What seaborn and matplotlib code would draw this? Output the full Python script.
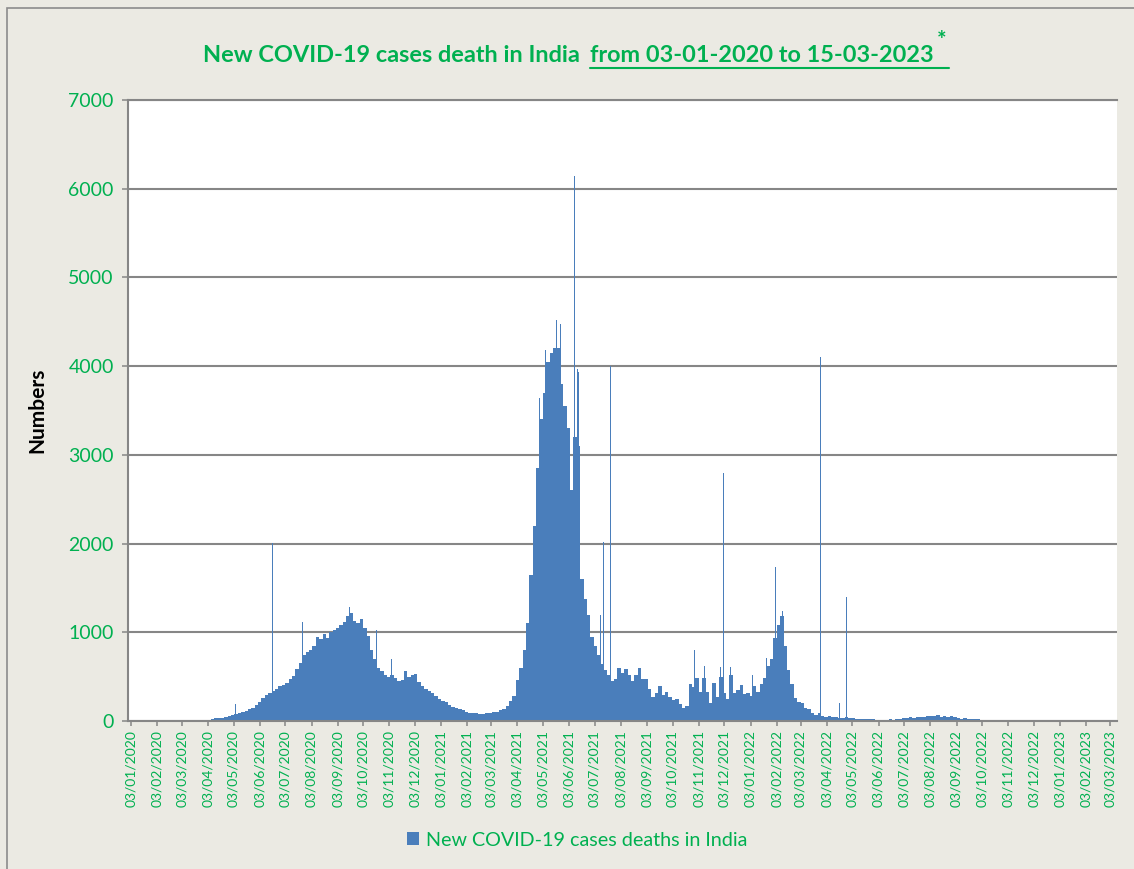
import numpy as np
import pandas as pd
import matplotlib
matplotlib.use("Agg")
import matplotlib.pyplot as plt
import matplotlib.dates as mdates
from matplotlib.patches import Patch, Rectangle
from matplotlib.lines import Line2D
import seaborn as sns

# daily new deaths, one value per 4-day block, first block starts 13/03/2020
first_day = "2020-03-13"
block_days = 4

deaths_2020 = [1, 2, 3, 5, 10,
               15, 22, 30, 32, 38, 45, 52, 65,
               80, 95, 105, 115, 130, 145, 175,
               215, 255, 290, 320, 340, 360, 390, 410,
               430, 470, 510, 590, 650, 740, 780, 800,
               850, 950, 920, 980, 930, 1000, 1030,
               1050, 1080, 1120, 1180, 1220, 1130, 1110, 1150,
               1050, 960, 800, 700, 600, 560, 520, 500,
               520, 480, 450, 460, 560, 500, 520,
               530, 440, 390, 360, 340, 320, 280, 250]
deaths_2021 = [230, 210, 180, 160, 145, 130, 120, 105,
               95, 90, 85, 80, 82, 90, 95,
               98, 105, 120, 140, 170, 230, 280,
               460, 600, 800, 1100, 1650, 2200, 2850, 3400,
               3700, 4050, 4150, 4200, 4200, 3800, 3550, 3300,
               2600, 3200, 3100, 1600, 1380, 1200, 950,
               850, 740, 640, 570, 520, 450, 470, 600,
               540, 590, 520, 450, 520, 600, 470, 470,
               360, 270, 310, 400, 290, 330, 270,
               240, 250, 190, 150, 170, 420, 380, 480,
               330, 480, 330, 200, 430, 270, 500,
               320, 250, 520, 320, 350, 410, 300, 320]
deaths_2022 = [280, 400, 330, 420, 480, 620, 700, 930,
               1080, 1180, 850, 580, 420, 260, 210,
               200, 150, 140, 90, 70, 95, 60, 50,
               60, 45, 40, 35, 38, 40, 32,
               30, 25, 26, 20, 22, 24, 18, 16,
               15, 12, 16, 18, 15, 22, 25,
               30, 36, 40, 35, 46, 42, 50, 56,
               52, 58, 62, 50, 56, 46, 52, 42,
               32, 26, 30, 22, 26, 20, 18,
               15, 12]

# single days standing out above the blocks
spike_dates = ["2020-05-05", "2020-06-17", "2020-07-23", "2020-09-16", "2020-10-01",
               "2020-10-18", "2020-11-05",
               "2021-04-02", "2021-04-28", "2021-05-06", "2021-05-19", "2021-05-23",
               "2021-06-09", "2021-06-12", "2021-06-14", "2021-07-09", "2021-07-13",
               "2021-07-21", "2021-10-23", "2021-10-28", "2021-11-09", "2021-11-28",
               "2021-12-02", "2021-12-10",
               "2022-01-05", "2022-01-21", "2022-02-01", "2022-02-09", "2022-02-18",
               "2022-03-26", "2022-04-17", "2022-04-26", "2022-08-27", "2022-11-01"]
spike_values = [190, 2003, 1115, 1285, 1180, 1030, 700,
                700, 3640, 4180, 4520, 4470, 6148, 3970, 3930, 1200, 2020,
                3998, 760, 800, 620, 610, 2796, 610,
                520, 705, 1733, 1240, 650, 4100, 200, 1400, 145, 1370]

title_left = "New COVID-19 cases death in India"
title_right = "from 03-01-2020 to 15-03-2023"
legend_label = "New COVID-19 cases deaths in India"

BLUE = "#4A7EBB"
GREEN = "#00B050"
GRID = "#868686"
BG = "#EBEAE3"

sns.set_style("white")
plt.rcParams["font.family"] = ["Lato", "DejaVu Sans"]

W, H = 1134, 869
fig = plt.figure(figsize=(W / 100, H / 100), dpi=100, facecolor=BG)
ax = fig.add_axes([128 / W, 1 - 721 / H, 989 / W, 621 / H])
ax.set_facecolor("white")

# 4-day blocks
deaths = deaths_2020 + deaths_2021 + deaths_2022
blocks = pd.DataFrame({
    "day": mdates.date2num(pd.date_range(first_day, periods=len(deaths), freq=f"{block_days}D")),
    "deaths": deaths,
})
sns.histplot(data=blocks, x="day", weights="deaths", binwidth=block_days,
             binrange=(blocks["day"].min(), blocks["day"].max() + block_days),
             color=BLUE, alpha=1, linewidth=0, antialiased=False, ax=ax)

# one-day spikes
spikes = pd.DataFrame({
    "day": mdates.date2num(pd.to_datetime(spike_dates)),
    "deaths": spike_values,
})
sns.histplot(data=spikes, x="day", weights="deaths", binwidth=1,
             binrange=(spikes["day"].min(), spikes["day"].max() + 1),
             color=BLUE, alpha=1, linewidth=0, ax=ax)

# axes
ax.set_xlim(mdates.date2num(pd.Timestamp("2019-12-30 12:00")),
            mdates.date2num(pd.Timestamp("2023-03-11 08:00")))
ax.set_ylim(0, 7000)
ax.set_yticks(range(0, 7001, 1000))
ax.xaxis.set_major_locator(mdates.MonthLocator(bymonthday=3))
ax.xaxis.set_major_formatter(mdates.DateFormatter("%d/%m/%Y"))
ax.set_axisbelow(True)
ax.yaxis.grid(True, color=GRID, linewidth=1.5)
ax.xaxis.grid(False)
for s in ["left", "bottom", "top"]:
    ax.spines[s].set_color(GRID)
    ax.spines[s].set_linewidth(1.5)
ax.spines["right"].set_visible(False)
ax.tick_params(axis="x", bottom=True, direction="out", length=3.6, width=1.1, color=GRID,
               labelcolor=GREEN, labelsize=10, labelrotation=90, pad=3)
ax.tick_params(axis="y", left=True, direction="out", length=4.3, width=1.1, color=GRID,
               labelcolor=GREEN, labelsize=14, pad=6)
ax.set_xlabel("")
ax.set_ylabel("Numbers", fontsize=15, fontweight="bold", color="black")
ax.yaxis.set_label_coords(-0.082, 0.5)

# legend
handle = Patch(facecolor=BLUE, edgecolor="none", label=legend_label)
fig.legend(handles=[handle], loc="center", bbox_to_anchor=(577 / W, 1 - 840 / H),
           frameon=False, fontsize=14.2, labelcolor=GREEN, handlelength=0.62,
           handleheight=0.62, handletextpad=0.35)

# title in two parts, the second underlined, with a superscript star
t1 = fig.text(203 / W, 1 - 62 / H, title_left, fontsize=16.9, fontweight="bold",
              color=GREEN, va="baseline")
fig.canvas.draw()
renderer = fig.canvas.get_renderer()
bb1 = t1.get_window_extent(renderer)
t2 = fig.text((bb1.x1 + 10) / W, 1 - 62 / H, title_right, fontsize=16.9, fontweight="bold",
              color=GREEN, va="baseline")
bb2 = t2.get_window_extent(renderer)
star = fig.text((bb2.x1 + 3) / W, 1 - 47 / H, "*", fontsize=16, fontweight="bold",
                color=GREEN, va="baseline")
bb3 = star.get_window_extent(renderer)
fig.add_artist(Line2D([bb2.x0 / W, (bb3.x1 + 3) / W], [1 - 68 / H] * 2, color=GREEN, lw=1.5))

# chart border
fig.add_artist(Rectangle((7 / W, -0.1), 1.2, 1.1 - 8 / H, transform=fig.transFigure,
                         fill=False, edgecolor="#8C8C8C", lw=1.2))

fig.savefig("out.png", dpi=100, facecolor=BG)
